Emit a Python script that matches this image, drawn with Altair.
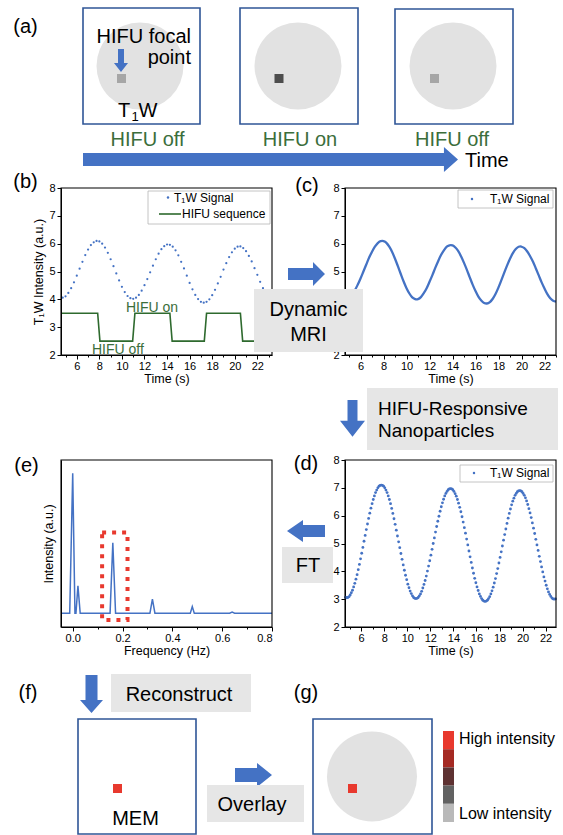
import altair as alt
import pandas as pd

FONT = "Liberation Sans"
BLUE = "#4472c4"
BOX_BLUE = "#2f5597"
GREEN = "#3b6e3b"
STEP_GREEN = "#2e6a2e"
GRAY_BOX = "#e6e6e6"
CIRCLE_GRAY = "#e2e2e2"
RED = "#e8392e"

# ---------------- data ----------------
# (b) T1W signal (dots every 0.25 s starting at 4.75 s)
B_START, B_STEP = 4.75, 0.25
B_SIGNAL = [4.06, 4.11, 4.23, 4.40, 4.61, 4.85, 5.10, 5.35, 5.59, 5.79, 5.95, 6.05, 6.10,
            6.08, 6.00, 5.86, 5.67, 5.44, 5.19, 4.93, 4.68, 4.45, 4.26, 4.12, 4.04,
            4.02, 4.06, 4.16, 4.31, 4.51, 4.73, 4.97, 5.21, 5.44, 5.64, 5.80, 5.91, 5.97,
            5.96, 5.89, 5.76, 5.58, 5.35, 5.11, 4.85, 4.59, 4.36, 4.16, 4.01, 3.91, 3.88,
            3.91, 4.00, 4.15, 4.34, 4.57, 4.81, 5.07, 5.30, 5.52, 5.69, 5.82, 5.89,
            5.90, 5.84, 5.73, 5.56, 5.36, 5.12, 4.88, 4.63, 4.40, 4.20, 4.05, 3.94]
# (b) HIFU sequence (step line)
HIFU_T = [4.6, 7.85, 8.05, 10.95, 11.15, 14.25, 14.45, 17.3, 17.5, 20.5, 20.7, 23.0]
HIFU_V = [3.5, 3.5, 2.5, 2.5, 3.5, 3.5, 2.5, 2.5, 3.5, 3.5, 2.5, 2.5]

# (c) T1W signal (continuous line)
C_T = [5.25, 5.5, 5.75, 6.0, 6.25, 6.5, 6.75, 7.0, 7.25, 7.5, 7.75, 7.9,
       8.0, 8.25, 8.5, 8.75, 9.0, 9.25, 9.5, 9.75, 10.0, 10.25, 10.5, 10.75, 10.85,
       11.0, 11.25, 11.5, 11.75, 12.0, 12.25, 12.5, 12.75, 13.0, 13.25, 13.5, 13.75, 13.85,
       14.0, 14.25, 14.5, 14.75, 15.0, 15.25, 15.5, 15.75, 16.0, 16.25, 16.5, 16.75, 16.95,
       17.0, 17.25, 17.5, 17.75, 18.0, 18.25, 18.5, 18.75, 19.0, 19.25, 19.5, 19.75, 19.9,
       20.0, 20.25, 20.5, 20.75, 21.0, 21.25, 21.5, 21.75, 22.0, 22.25, 22.5, 22.75, 23.0]
C_V = [4.18, 4.32, 4.52, 4.75, 5.00, 5.25, 5.50, 5.71, 5.89, 6.02, 6.09, 6.10,
       6.09, 6.03, 5.89, 5.70, 5.46, 5.19, 4.91, 4.64, 4.40, 4.21, 4.07, 4.01, 4.00,
       4.01, 4.08, 4.22, 4.40, 4.63, 4.87, 5.13, 5.37, 5.59, 5.76, 5.89, 5.94, 5.95,
       5.94, 5.86, 5.73, 5.54, 5.31, 5.06, 4.79, 4.53, 4.30, 4.10, 3.96, 3.87, 3.85,
       3.85, 3.90, 4.02, 4.20, 4.43, 4.69, 4.96, 5.22, 5.46, 5.66, 5.81, 5.89, 5.90,
       5.89, 5.84, 5.72, 5.55, 5.35, 5.11, 4.86, 4.61, 4.39, 4.19, 4.04, 3.95, 3.92]

# (d) T1W signal with nanoparticles (dense dots every 0.1 s starting at 4.65 s)
D_START, D_STEP = 4.65, 0.1
D_SIGNAL = [3.07,
            3.05, 3.06, 3.09, 3.15, 3.23, 3.32, 3.44, 3.57, 3.72, 3.88, 4.06, 4.25, 4.45, 4.65, 4.86,
            5.08, 5.29, 5.50, 5.70, 5.90, 6.09, 6.27, 6.43, 6.58, 6.71, 6.83, 6.92, 7.00, 7.06, 7.09, 7.10,
            7.09, 7.06, 7.00, 6.92, 6.83, 6.71, 6.58, 6.43, 6.26, 6.08, 5.89, 5.69, 5.48, 5.27, 5.06,
            4.85, 4.64, 4.43, 4.23, 4.04, 3.86, 3.70, 3.54, 3.41, 3.29, 3.20, 3.12, 3.06, 3.03, 3.02,
            3.03, 3.06, 3.12, 3.19, 3.28, 3.40, 3.53, 3.67, 3.83, 4.01, 4.19, 4.38, 4.58, 4.79, 5.00,
            5.20, 5.41, 5.61, 5.80, 5.98, 6.16, 6.32, 6.46, 6.59, 6.71, 6.80, 6.87, 6.93, 6.96, 6.97,
            6.96, 6.93, 6.87, 6.79, 6.70, 6.58, 6.45, 6.30, 6.14, 5.96, 5.77, 5.57, 5.37, 5.16, 4.95,
            4.73, 4.52, 4.32, 4.12, 3.93, 3.75, 3.59, 3.44, 3.31, 3.19, 3.10, 3.02, 2.96, 2.93, 2.92,
            2.93, 2.96, 3.02, 3.09, 3.19, 3.30, 3.43, 3.58, 3.74, 3.92, 4.10, 4.30, 4.50, 4.70, 4.91,
            5.12, 5.32, 5.52, 5.72, 5.91, 6.08, 6.24, 6.39, 6.52, 6.63, 6.73, 6.80, 6.86, 6.89, 6.90,
            6.89, 6.86, 6.80, 6.73, 6.64, 6.53, 6.40, 6.25, 6.10, 5.93, 5.74, 5.55, 5.36, 5.15, 4.95,
            4.75, 4.54, 4.35, 4.16, 3.98, 3.80, 3.65, 3.50, 3.37, 3.26, 3.17, 3.10, 3.04, 3.01, 3.00,
            3.01]

# (e) Fourier spectrum
FREQ = [-0.047, -0.012, 0.0, 0.009, 0.013, 0.021, 0.030, 0.150, 0.161, 0.172,
        0.310, 0.320, 0.330, 0.472, 0.480, 0.488, 0.630, 0.640, 0.650, 0.800]
AMP = [0.083, 0.083, 0.920, 0.083, 0.083, 0.247, 0.083, 0.083, 0.504, 0.083,
       0.083, 0.167, 0.083, 0.083, 0.122, 0.083, 0.083, 0.090, 0.083, 0.083]
HIGHLIGHT_FREQ = [0.118, 0.220]
HIGHLIGHT_AMP = [0.042, 0.566]

TIME_LABELS_B = [5, 6, 7, 8, 9, 10, 11, 12, 13, 14, 15, 16, 17, 18, 19, 20, 21, 22, 23]
TIME_LABELS_D = [5, 6, 7, 8, 9, 10, 11, 12, 13, 14, 15, 16, 17, 18, 19, 20, 21, 22]
LEVEL_LABELS = [2, 2.5, 3, 3.5, 4, 4.5, 5, 5.5, 6, 6.5, 7, 7.5, 8]
FREQ_LABELS = [0.0, 0.1, 0.2, 0.3, 0.4, 0.5, 0.6, 0.7, 0.8]
COLORBAR = ["#e8392e", "#a52a23", "#5e3232", "#626262", "#b9b9b9"]

# ---------------- layout (page pixels) ----------------
PANEL_W, PANEL_H = 211, 167
ORIGIN_B = (61, 188)
ORIGIN_C = (345, 188)
ORIGIN_E = (61, 460)
ORIGIN_D = (345, 460)
PAGE_W, PAGE_H = 563, 835

PXX = alt.X("x:Q", scale=None, axis=None)
PXY = alt.Y("y:Q", scale=None, axis=None)


def rel(rows, origin):
    ox, oy = origin
    out = []
    for r in rows:
        r = dict(r)
        for k in ("x", "x2"):
            if k in r:
                r[k] = r[k] - ox
        for k in ("y", "y2"):
            if k in r:
                r[k] = r[k] - oy
        out.append(r)
    return pd.DataFrame(out)


def T(text, x, y, size=20, color="black"):
    return {"text": text, "x": x, "y": y, "size": size, "color": color}


def R(x, y, x2, y2, fill="white"):
    return {"x": x, "y": y, "x2": x2, "y2": y2, "fill": fill}


def S(shape, x, y, size, color=BLUE):
    return {"shape": shape, "x": x, "y": y, "size": size, "color": color}


def texts(rows, origin, align="center"):
    return alt.Chart(rel(rows, origin)).mark_text(
        align=align, baseline="alphabetic", font=FONT).encode(
        x=PXX, y=PXY, text=alt.Text("text:N"),
        size=alt.Size("size:Q", scale=None, legend=None),
        color=alt.Color("color:N", scale=None, legend=None))


def rects(rows, origin, **mark):
    return alt.Chart(rel(rows, origin)).mark_rect(**mark).encode(
        x=PXX, x2="x2:Q", y=PXY, y2="y2:Q",
        color=alt.Color("fill:N", scale=None, legend=None))


def symbols(rows, origin):
    return alt.Chart(rel(rows, origin)).mark_point(
        filled=True, opacity=1, strokeWidth=0).encode(
        x=PXX, y=PXY,
        shape=alt.Shape("shape:N", scale=None, legend=None),
        size=alt.Size("size:Q", scale=None, legend=None),
        color=alt.Color("color:N", scale=None, legend=None))


def hline(x1, x2, y, origin, color, width):
    ox, oy = origin
    df = pd.DataFrame([{"x": x1 - ox, "x2": x2 - ox, "y": y - oy}])
    return alt.Chart(df).mark_rule(color=color, strokeWidth=width).encode(
        x=PXX, x2="x2:Q", y=PXY)


def frame():
    return alt.Chart(pd.DataFrame([{"k": 0}])).mark_rect(
        fillOpacity=0, stroke="black", strokeWidth=1.1).encode(
        x=alt.value(0), x2=alt.value(PANEL_W), y=alt.value(0), y2=alt.value(PANEL_H))


TICK_EVEN = {"condition": {"test": "datum.value % 2 === 0", "value": 4}, "value": 2}
TICK_INT = {"condition": {"test": "datum.value % 1 === 0", "value": 4}, "value": 2}
TICK_FREQ = {"condition": {"test": "round(datum.value * 10) % 2 === 0", "value": 4}, "value": 2}
INT_LABELS = "datum.value % 1 === 0 ? datum.label : ''"
# in (c) the labels 3 and 4 sit under the "Dynamic MRI" box
INT_LABELS_C = "datum.value % 1 === 0 && datum.value > 4 || datum.value === 2 ? datum.label : ''"


def time_x(domain, values, z):
    return alt.X("t:Q", scale=alt.Scale(domain=domain, nice=False, zero=False),
                 axis=alt.Axis(values=values, format="d", title="Time (s)", grid=False,
                               labelExpr="datum.value % 2 === 0 ? datum.label : ''",
                               tickSize=TICK_EVEN, labelPadding=1, titlePadding=1, zindex=z))


def level_y(title, z, label_expr=INT_LABELS):
    if title:
        ax = alt.Axis(values=LEVEL_LABELS, format="d", title=title, grid=False,
                      labelExpr=label_expr,
                      tickSize=TICK_INT, labelPadding=2, titlePadding=3, zindex=z)
    else:
        ax = alt.Axis(values=LEVEL_LABELS, format="d", title=None, grid=False,
                      labelExpr=label_expr,
                      tickSize=TICK_INT, labelPadding=2, zindex=z)
    return alt.Y("v:Q", scale=alt.Scale(domain=[2, 8], nice=False, zero=False), axis=ax)


# arrow shapes (custom symbol paths in a [-1, 1] box)
ARROW_DOWN_A = "M -0.26 -1 L 0.26 -1 L 0.26 0.22 L 0.61 0.22 L 0 1 L -0.61 0.22 L -0.26 0.22 Z"
ARROW_TIME = "M -1 -0.035 L 0.925 -0.035 L 0.925 -0.067 L 1 0 L 0.925 0.067 L 0.925 0.035 L -1 0.035 Z"
ARROW_RIGHT = "M -1 -0.324 L 0.351 -0.324 L 0.351 -0.649 L 1 0 L 0.351 0.649 L 0.351 0.324 L -1 0.324 Z"
ARROW_DOWN_N = "M -0.272 -1 L 0.272 -1 L 0.272 0.131 L 0.681 0.131 L 0 1 L -0.681 0.131 L -0.272 0.131 Z"
ARROW_LEFT = "M 1 -0.316 L -0.158 -0.316 L -0.158 -0.58 L -1 0 L -0.158 0.58 L -0.158 0.316 L 1 0.316 Z"
ARROW_DOWN_R = "M -0.316 -1 L 0.316 -1 L 0.316 0.316 L 0.605 0.316 L 0 1 L -0.605 0.316 L -0.316 0.316 Z"
ARROW_OVERLAY = "M -1 -0.378 L 0.19 -0.378 L 0.19 -0.649 L 1 0 L 0.19 0.649 L 0.19 0.378 L -1 0.378 Z"

# ---------------- panel (b) + row (a) ----------------
ob = ORIGIN_B
b_df = pd.DataFrame({"t": [round(B_START + i * B_STEP, 2) for i in range(len(B_SIGNAL))],
                     "v": B_SIGNAL})
hifu_df = pd.DataFrame({"t": HIFU_T, "v": HIFU_V})
bx = time_x([4.6, 23.3], TIME_LABELS_B, 1)
by = level_y("T\u2081W Intensity (a.u.)", 1)

b_layers = [
    rects([R(0, 0, PAGE_W, PAGE_H)], ob, strokeWidth=0),
    rects([R(83, 8, 200, 124), R(240, 8, 358, 124), R(395, 9, 513, 124)], ob,
          stroke=BOX_BLUE, strokeWidth=1.6),
    symbols([S("circle", 140, 66, 7569, CIRCLE_GRAY), S("circle", 298, 66, 7569, CIRCLE_GRAY),
             S("circle", 453, 66, 7569, CIRCLE_GRAY)], ob),
    symbols([S("square", 121.5, 78.5, 81, "#a6a6a6"), S("square", 279, 78.5, 81, "#4d4d4d"),
             S("square", 434.5, 78.5, 81, "#a6a6a6")], ob),
    symbols([S(ARROW_DOWN_A, 121, 60.5, 529), S(ARROW_TIME, 270.5, 159.5, 140625)], ob),
    texts([T("(a)", 25.5, 33), T("HIFU off", 147.5, 146, 20, GREEN),
           T("HIFU on", 300, 146, 20, GREEN), T("HIFU off", 452, 145.5, 20, GREEN)], ob),
    texts([T("HIFU focal", 191, 43), T("point", 191, 64)], ob, align="right"),
    texts([T("T", 118, 117), T("1", 131.5, 121, 13), T("W", 138.5, 117), T("Time", 465, 166.5)],
          ob, align="left"),
    alt.Chart(b_df).mark_point(filled=True, opacity=1, size=5, color=BLUE, strokeWidth=0).encode(x=bx, y=by),
    alt.Chart(hifu_df).mark_line(color=STEP_GREEN, strokeWidth=1.6).encode(x=bx, y=by),
    rects([R(148, 191, 270, 224)], ob, stroke="#b5b5b5", strokeWidth=0.8),
    symbols([S("circle", 168, 197.5, 6)], ob),
    hline(159, 181, 214, ob, STEP_GREEN, 1.6),
    texts([T("T\u2081W Signal", 174, 201.5, 12), T("HIFU sequence", 182, 218, 12),
           T("HIFU on", 126, 312, 14, GREEN), T("HIFU off", 92, 354, 14, GREEN)], ob, align="left"),
    frame(),
    texts([T("(b)", 25.5, 188)], ob),
]
panel_b = alt.layer(*b_layers).properties(width=PANEL_W, height=PANEL_H)

# ---------------- panel (c) ----------------
oc = ORIGIN_C
c_df = pd.DataFrame({"t": C_T, "v": C_V})
cx = time_x([4.65, 23.0], TIME_LABELS_B, 0)
cy = level_y(None, 0, INT_LABELS_C)
c_layers = [
    alt.Chart(c_df).mark_line(color=BLUE, strokeWidth=2.3, interpolate="monotone").encode(x=cx, y=cy),
    rects([R(458, 190, 553, 208)], oc, stroke="#b5b5b5", strokeWidth=0.8),
    symbols([S("circle", 472, 199, 6)], oc),
    texts([T("T\u2081W Signal", 490, 203, 12)], oc, align="left"),
    frame(),
    texts([T("(c)", 307, 192)], oc),
    symbols([S(ARROW_RIGHT, 306.5, 274, 1369)], oc),
    rects([R(254, 289, 363, 352, GRAY_BOX)], oc, strokeWidth=0),
    texts([T("Dynamic", 308.5, 316), T("MRI", 308.5, 341)], oc),
]
panel_c = alt.layer(*c_layers).properties(width=PANEL_W, height=PANEL_H)

# ---------------- panel (e) + row (f) ----------------
oe = ORIGIN_E
e_df = pd.DataFrame({"t": FREQ, "v": AMP})
hl_df = pd.DataFrame({"t": [HIGHLIGHT_FREQ[0]], "t2": [HIGHLIGHT_FREQ[1]],
                      "v": [HIGHLIGHT_AMP[0]], "v2": [HIGHLIGHT_AMP[1]]})
ex = alt.X("t:Q", scale=alt.Scale(domain=[-0.047, 0.8], nice=False, zero=False),
           axis=alt.Axis(values=FREQ_LABELS, format=".1f", title="Frequency (Hz)", grid=False,
                         labelExpr="round(datum.value * 10) % 2 === 0 ? datum.label : ''",
                         tickSize=TICK_FREQ, labelPadding=1, titlePadding=1, zindex=1))
ey = alt.Y("v:Q", scale=alt.Scale(domain=[0, 1], nice=False, zero=False),
           axis=alt.Axis(title="Intensity (a.u.)", labels=False, ticks=False, grid=False,
                         titlePadding=6, zindex=1))
e_layers = [
    alt.Chart(e_df).mark_line(color=BLUE, strokeWidth=1.5).encode(x=ex, y=ey),
    alt.Chart(hl_df).mark_rect(fillOpacity=0, stroke=RED, strokeWidth=4, strokeDash=[4, 6]).encode(
        x=ex, x2="t2:Q", y=ey, y2="v2:Q"),
    frame(),
    texts([T("(e)", 26.5, 472)], oe),
    symbols([S(ARROW_DOWN_R, 91.5, 694, 1444), S(ARROW_OVERLAY, 253.5, 775, 1369)], oe),
    rects([R(111, 674, 251, 712, GRAY_BOX), R(207, 785, 304, 822, GRAY_BOX)], oe, strokeWidth=0),
    rects([R(78, 719, 196, 834)], oe, stroke=BOX_BLUE, strokeWidth=1.6),
    symbols([S("square", 117.5, 788.5, 81, RED)], oe),
    texts([T("(f)", 28, 699), T("Reconstruct", 179, 700.5), T("MEM", 135.5, 825),
           T("Overlay", 252, 811)], oe),
]
panel_e = alt.layer(*e_layers).properties(width=PANEL_W, height=PANEL_H)

# ---------------- panel (d) + row (g) ----------------
od = ORIGIN_D
d_df = pd.DataFrame({"t": [round(D_START + i * D_STEP, 2) for i in range(len(D_SIGNAL))],
                     "v": D_SIGNAL})
dx = time_x([4.6, 22.9], TIME_LABELS_D, 0)
dy = level_y(None, 0)
cb_rows = []
cb_top, cb_step = 731.0, 18.2
for i, col in enumerate(COLORBAR):
    cb_rows.append(R(443, cb_top + i * cb_step, 454, cb_top + (i + 1) * cb_step, col))
d_layers = [
    alt.Chart(d_df).mark_point(filled=True, opacity=1, size=8, color=BLUE, strokeWidth=0).encode(x=dx, y=dy),
    rects([R(460, 465, 553, 482)], od, stroke="#b5b5b5", strokeWidth=0.8),
    symbols([S("circle", 474, 473, 6)], od),
    texts([T("T\u2081W Signal", 490, 477, 12)], od, align="left"),
    frame(),
    texts([T("(d)", 306, 470)], od),
    symbols([S(ARROW_LEFT, 306, 531, 1444), S(ARROW_DOWN_N, 352.5, 418.3, 1347)], od),
    rects([R(282, 547, 333, 583, GRAY_BOX), R(367, 388, 558, 450, GRAY_BOX)], od, strokeWidth=0),
    texts([T("FT", 308, 572)], od),
    texts([T("HIFU-Responsive", 378, 415, 19), T("Nanoparticles", 378, 437, 19)], od, align="left"),
    texts([T("(g)", 306, 699)], od),
    rects([R(313, 719, 432, 834)], od, stroke=BOX_BLUE, strokeWidth=1.6),
    symbols([S("circle", 372, 776.5, 8100, CIRCLE_GRAY), S("square", 352.5, 788.5, 81, RED)], od),
    rects(cb_rows, od, strokeWidth=0),
    texts([T("High intensity", 459, 744, 16), T("Low intensity", 459, 819, 16)], od, align="left"),
]
panel_d = alt.layer(*d_layers).properties(width=PANEL_W, height=PANEL_H)

chart = alt.concat(
    panel_b, panel_c, panel_e, panel_d,
    columns=2, spacing={"row": 105, "column": 73}, bounds="flush",
).properties(padding=0, background="white").configure(
    font=FONT
).configure_view(
    strokeWidth=0
).configure_axis(
    labelFont=FONT, titleFont=FONT, labelFontSize=11, titleFontSize=12.5,
    titleFontWeight="normal", labelColor="black", titleColor="black",
    domainColor="black", tickColor="black", domainWidth=1, tickWidth=1, grid=False,
)

chart.save("out.html", embed_options={"renderer": "svg", "actions": False})
